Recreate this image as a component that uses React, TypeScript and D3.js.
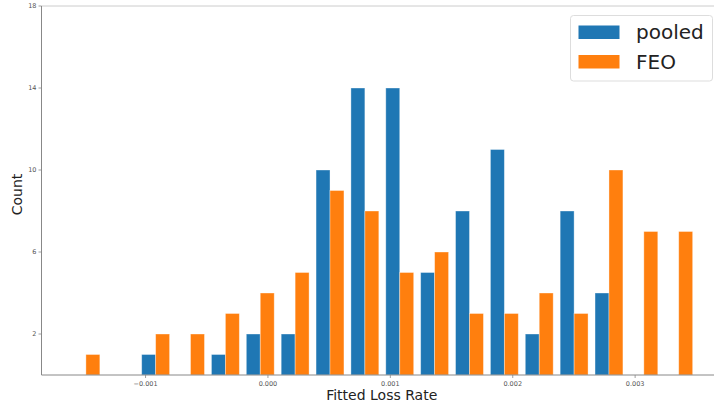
import React from "react";
import * as d3 from "d3";

// Histogram bin edges (fitted loss rate) and counts per bin for each model
const binEdges = [
  -0.0016297, -0.0013448, -0.0010599, -0.000775, -0.0004901, -0.0002052,
  0.0000797, 0.0003646, 0.0006495, 0.0009344, 0.0012193, 0.0015042,
  0.0017891, 0.002074, 0.0023589, 0.0026438, 0.0029287, 0.0032136, 0.0034985,
];
const pooledCounts = [0, 0, 1, 0, 1, 2, 2, 10, 14, 14, 5, 8, 11, 2, 8, 4, 0, 0];
const feoCounts = [1, 0, 2, 2, 3, 4, 5, 9, 8, 5, 6, 3, 3, 4, 3, 10, 7, 7];

const seriesNames = ["pooled", "FEO"];
const seriesColors = ["#1f77b4", "#ff7f0e"];

const xTicks = [-0.001, 0.0, 0.001, 0.002, 0.003];
const xTickLabels = ["\u22120.001", "0.000", "0.001", "0.002", "0.003"];
const yTicks = [2, 6, 10, 14, 18];

const W = 714;
const H = 408;
const left = 41.5;
const bottom = 375;
const top = 6;
const font = "'DejaVu Sans', sans-serif";

export default function App() {
  const x = d3.scaleLinear().domain([-0.00185, 0.00365]).range([left, left + 0.0055 * 122400]);
  const y = d3.scaleLinear().domain([0, 18]).range([bottom, top]);

  const series = [pooledCounts, feoCounts];
  const bars: React.ReactNode[] = [];
  series.forEach((counts, si) => {
    counts.forEach((c, i) => {
      if (c <= 0) return;
      const x0 = binEdges[i];
      const x1 = binEdges[i + 1];
      const w = x1 - x0;
      const bx0 = x0 + 0.1 * w + si * 0.4 * w;
      const bx1 = bx0 + 0.4 * w;
      bars.push(
        <rect
          key={`${si}-${i}`}
          x={x(bx0)}
          y={y(c)}
          width={x(bx1) - x(bx0)}
          height={y(0) - y(c)}
          fill={seriesColors[si]}
          stroke="#ffffff"
          strokeOpacity={0.45}
          strokeWidth={0.8}
        />
      );
    });
  });

  return (
    <div style={{ position: "fixed", left: 0, top: 0 }}>
      <svg width={W} height={H} style={{ display: "block", background: "#fff" }}>
        <g>{bars}</g>

        {/* spines */}
        <line x1={left} x2={W} y1={top} y2={top} stroke="#cccccc" strokeWidth={1} />
        <line x1={left} x2={left} y1={top} y2={bottom} stroke="#888888" strokeWidth={1} />
        <line x1={left} x2={W} y1={bottom} y2={bottom} stroke="#888888" strokeWidth={1} />

        {/* y ticks */}
        {yTicks.map((t) => (
          <g key={`y${t}`}>
            <line x1={left - 3} x2={left} y1={y(t)} y2={y(t)} stroke="#888" strokeWidth={0.8} />
            <text
              x={left - 5}
              y={y(t)}
              dy="0.35em"
              textAnchor="end"
              fontFamily={font}
              fontSize={6.5}
              fill="#555"
            >
              {t}
            </text>
          </g>
        ))}

        {/* x ticks */}
        {xTicks.map((t, i) => (
          <g key={`x${i}`}>
            <line x1={x(t)} x2={x(t)} y1={bottom} y2={bottom + 3} stroke="#888" strokeWidth={0.8} />
            <text
              x={x(t)}
              y={bottom + 11}
              textAnchor="middle"
              fontFamily={font}
              fontSize={6.5}
              fill="#555"
            >
              {xTickLabels[i]}
            </text>
          </g>
        ))}

        {/* axis labels */}
        <text
          x={(left + W) / 2 + 4}
          y={400}
          textAnchor="middle"
          fontFamily={font}
          fontSize={14}
          fill="#222"
        >
          Fitted Loss Rate
        </text>
        <text
          transform={`translate(22,${(top + bottom) / 2 + 4}) rotate(-90)`}
          textAnchor="middle"
          fontFamily={font}
          fontSize={14}
          fill="#222"
        >
          Count
        </text>

        {/* legend */}
        <rect
          x={570.5}
          y={15.5}
          width={142}
          height={65.5}
          rx={3}
          fill="#fff"
          fillOpacity={0.8}
          stroke="#dddddd"
          strokeWidth={1}
        />
        {seriesNames.map((name, i) => (
          <g key={name}>
            <rect x={578.5} y={25.5 + i * 29.5} width={41} height={13.5} fill={seriesColors[i]} />
            <text
              x={636}
              y={39 + i * 29.5}
              fontFamily={font}
              fontSize={20}
              fill="#222"
            >
              {name}
            </text>
          </g>
        ))}
      </svg>
    </div>
  );
}
